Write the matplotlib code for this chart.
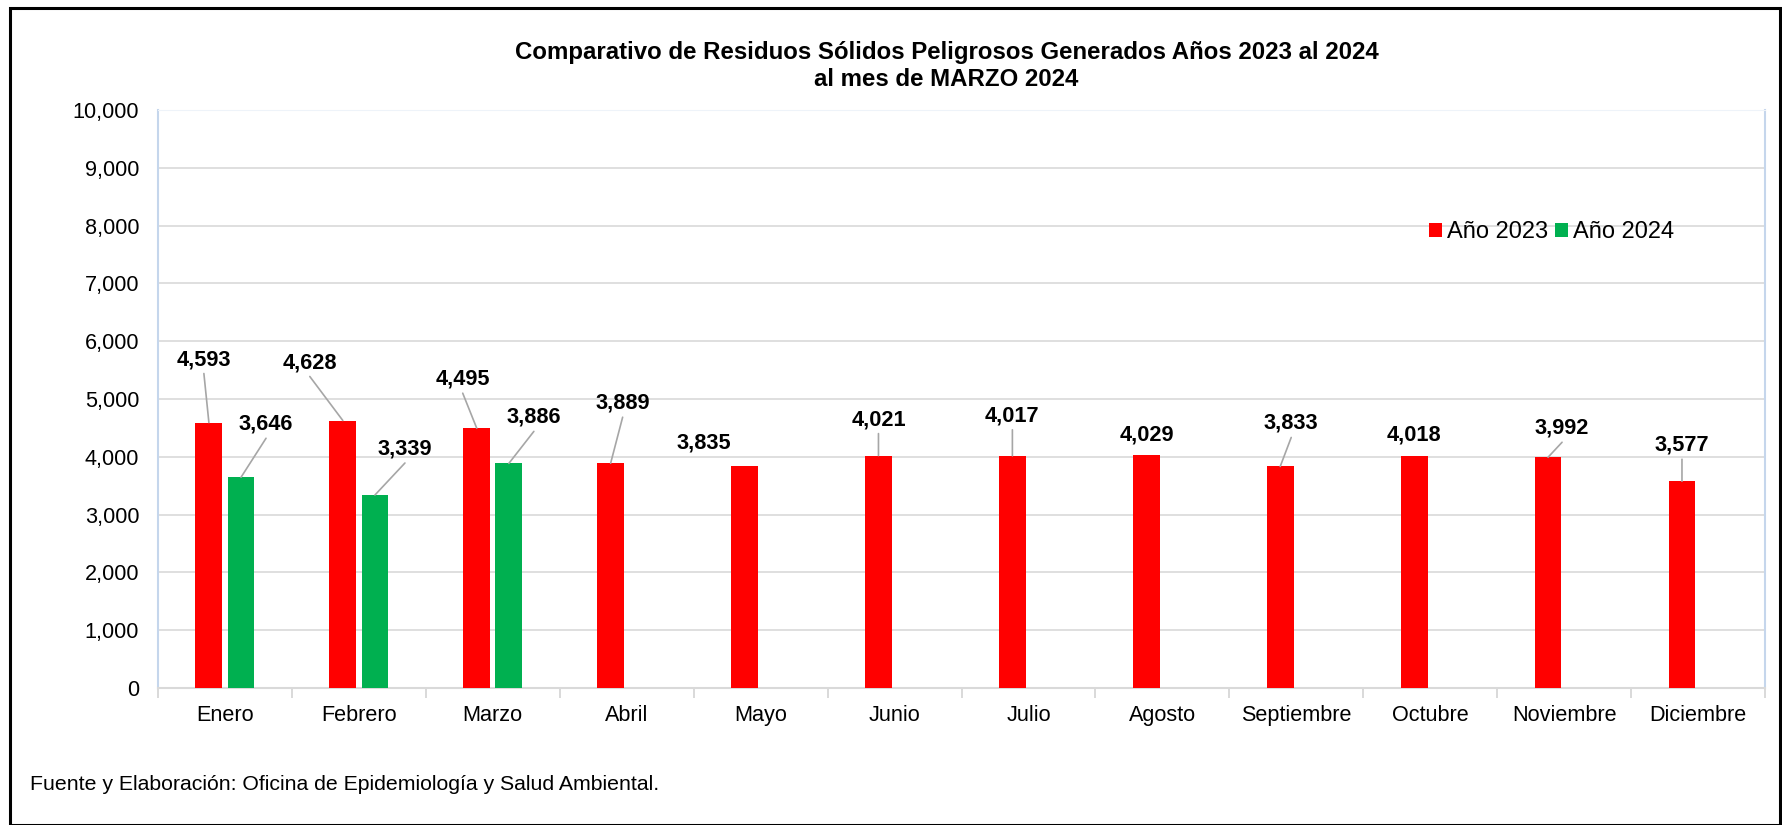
import matplotlib
matplotlib.use("Agg")
import matplotlib.pyplot as plt
from matplotlib.patches import Patch, Rectangle
from matplotlib.ticker import FuncFormatter
import numpy as np

plt.rcParams['font.family'] = ['Liberation Sans', 'DejaVu Sans']

# Datos
meses = ['Enero', 'Febrero', 'Marzo', 'Abril', 'Mayo', 'Junio', 'Julio',
         'Agosto', 'Septiembre', 'Octubre', 'Noviembre', 'Diciembre']
anio_2023 = [4593, 4628, 4495, 3889, 3835, 4021, 4017, 4029, 3833, 4018, 3992, 3577]
anio_2024 = [3646, 3339, 3886]

# posicion de etiquetas (px, respecto a la parte superior de la barra) y si llevan linea guia
off_2023 = [(-5, 65), (-33, 60), (-14, 51), (12, 62), (-41, 25), (0, 38),
            (0, 42), (1, 22), (11, 45), (0, 23), (14, 31), (0, 38)]
lead_2023 = [True, True, True, True, False, True, True, False, True, False, True, True]
off_2024 = [(25, 55), (30, 48), (25, 48)]
lead_2024 = [True, True, True]

W, H = 1782, 825
fig = plt.figure(figsize=(W / 100, H / 100), dpi=100)
ax = fig.add_axes([158 / W, 1 - 688 / H, (1765 - 158) / W, (688 - 110) / H])

x = np.arange(len(meses))
ancho = 0.2
desp = 0.12
ax.bar(x - desp, anio_2023, width=ancho, color='#ff0000', zorder=3)
ax.bar(x[:len(anio_2024)] + desp, anio_2024, width=ancho, color='#00b050', zorder=3)

ax.set_xlim(-0.5, len(meses) - 0.5)
ax.set_ylim(0, 10000)
ax.set_yticks(range(0, 10001, 1000))
ax.yaxis.set_major_formatter(FuncFormatter(lambda v, p: f'{int(v):,}'))
ax.set_xticks(x)
ax.set_xticklabels(meses)
ax.set_xticks(np.arange(-0.5, len(meses), 1), minor=True)
ax.tick_params(axis='x', which='major', length=0, pad=12.5, labelsize=15.6)
ax.tick_params(axis='x', which='minor', length=7, width=1.4, color='#d9d9d9')
ax.tick_params(axis='y', length=0, pad=13.5, labelsize=15.6)

ax.grid(axis='y', color='#d9d9d9', lw=1.2, zorder=0)
ax.spines['left'].set_color('#c5d6ec')
ax.spines['left'].set_linewidth(1.5)
ax.spines['right'].set_color('#c5d6ec')
ax.spines['right'].set_linewidth(1.5)
ax.spines['top'].set_color('#eef3f9')
ax.spines['bottom'].set_color('#d9d9d9')
ax.spines['bottom'].set_linewidth(1.5)

px = 0.72  # pixeles a puntos


def etiquetar(xs, vals, offs, leads):
    for xi, v, (dx, dy), ld in zip(xs, vals, offs, leads):
        ax.annotate(f'{v:,}', xy=(xi, v), xytext=(dx * px, (dy - 7.5) * px),
                    textcoords='offset points', ha='center', va='baseline',
                    fontsize=15.7, fontweight='bold', zorder=5)
        if ld:
            ax.annotate('', xy=(xi, v), xytext=(dx * px, (dy - 16) * px),
                        textcoords='offset points',
                        arrowprops=dict(arrowstyle='-', color='#a6a6a6', lw=1.2,
                                        shrinkA=0, shrinkB=0), zorder=4)


etiquetar(x - desp, anio_2023, off_2023, lead_2023)
etiquetar(x[:len(anio_2024)] + desp, anio_2024, off_2024, lead_2024)

# titulo
fig.text(946.5 / W, 1 - 59 / H, 'Comparativo de Residuos Sólidos Peligrosos Generados Años 2023 al 2024',
         ha='center', va='baseline', fontsize=17.3, fontweight='bold')
fig.text(946.5 / W, 1 - 86.5 / H, 'al mes de MARZO 2024',
         ha='center', va='baseline', fontsize=17.3, fontweight='bold')

# leyenda
handles = [Patch(facecolor='#ff0000', label='Año 2023'),
           Patch(facecolor='#00b050', label='Año 2024')]
fig.legend(handles=handles, loc='center left', bbox_to_anchor=(1429 / W, 1 - 232 / H),
           ncol=2, frameon=False, fontsize=17, handlelength=0.55, handleheight=0.55,
           handletextpad=0.2, columnspacing=0.3, borderpad=0, borderaxespad=0)

# fuente
fig.text(30 / W, 1 - 790.5 / H, 'Fuente y Elaboración: Oficina de Epidemiología y Salud Ambiental.',
         ha='left', va='baseline', fontsize=15.3)

# marco
fig.patches.append(Rectangle((10 / W, 0), (1780 - 10) / W, 1 - 8 / H, transform=fig.transFigure,
                             fill=False, edgecolor='black', lw=2.2))

fig.savefig('out.png', dpi=100)
